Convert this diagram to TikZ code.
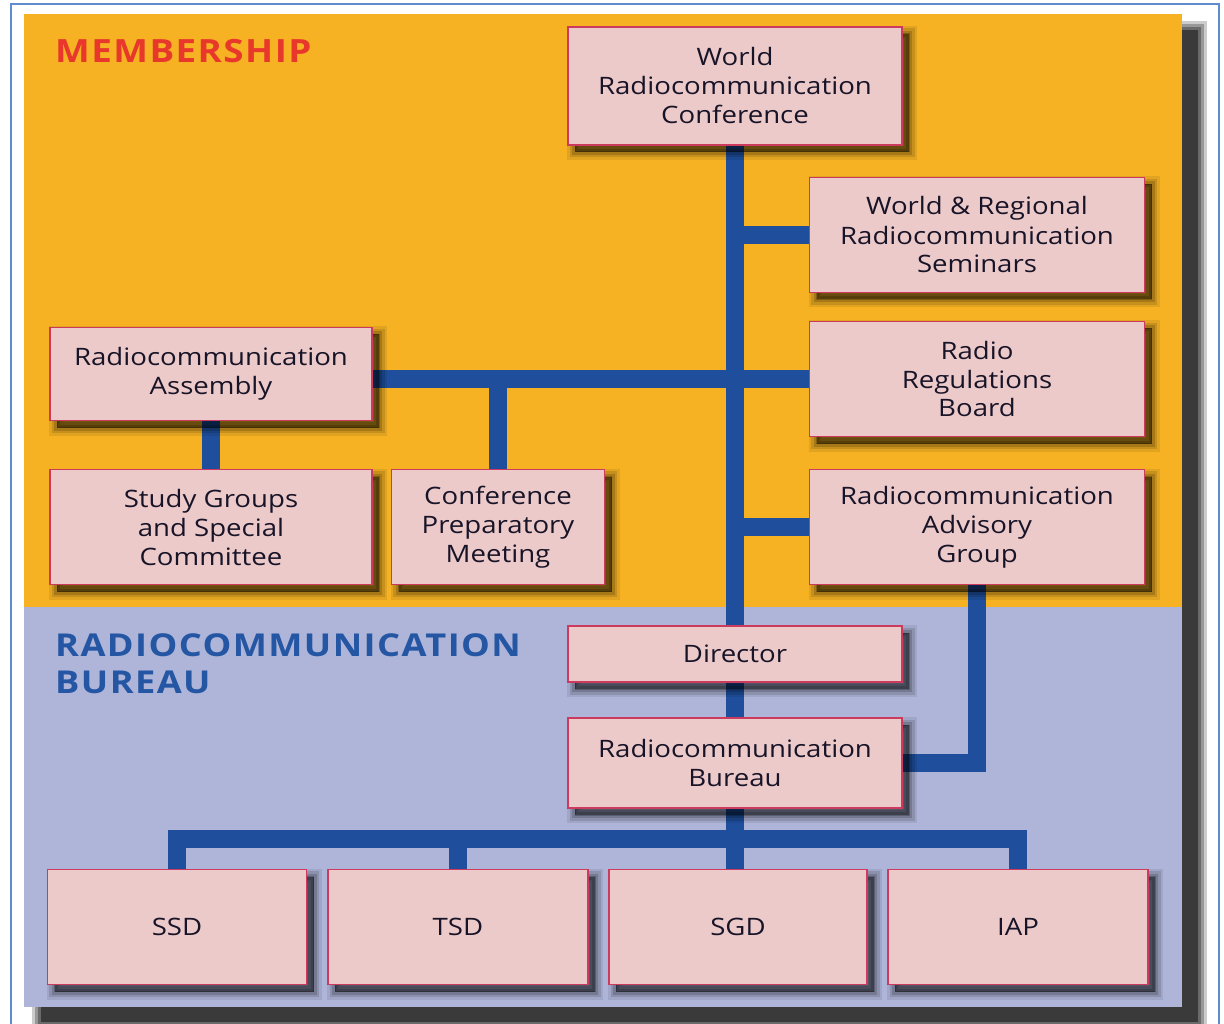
\documentclass[tikz,border=0pt]{standalone}
\usepackage{fontspec}
\newfontfamily\boxfont{Open Sans}[FakeStretch=1.15]
\newfontfamily\headfont{Open Sans}[FakeStretch=1.15, LetterSpace=4.5]
\usetikzlibrary{shadows}

\definecolor{membergold}{RGB}{246,178,35}
\definecolor{bureaulilac}{RGB}{174,181,217}
\definecolor{boxpink}{RGB}{237,202,202}
\definecolor{boxrim}{RGB}{204,58,94}
\definecolor{linkblue}{RGB}{31,79,156}
\definecolor{headred}{RGB}{232,55,43}
\definecolor{headblue}{RGB}{36,86,164}
\definecolor{framedge}{RGB}{95,140,205}
\definecolor{inkdark}{RGB}{24,20,40}

\pgfdeclarelayer{panel}
\pgfdeclarelayer{links}
\pgfsetlayers{panel,links,main}

\begin{document}
\begin{tikzpicture}[x=1pt, y=-1pt,
    % soft shadow: stacked strokes of falling width
    shadowstep/.style={drop shadow={shadow xshift=7pt, shadow yshift=-7pt,
        fill=black, draw=black, #1}},
    softshadow/.style={
      shadowstep={opacity=.08, line width=16pt},
      shadowstep={opacity=.12, line width=11pt},
      shadowstep={opacity=.16, line width=6pt},
      shadowstep={opacity=.22, line width=1pt}},
    unit/.style={draw=boxrim, line width=1.6pt, fill=boxpink, text=inkdark,
      align=center, inner sep=0pt, softshadow,
      font=\boxfont\fontsize{24}{29}\selectfont},
    link/.style={draw=linkblue, line width=18pt},
    heading/.style={anchor=base west, inner sep=0pt, align=left,
      font=\headfont\bfseries\fontsize{32}{37}\selectfont}]
    \useasboundingbox (0,0) rectangle (1224,1024);

    % background panel: membership on top, bureau below
    \begin{pgfonlayer}{panel}
        \fill[white] (0,0) rectangle (1224,1024);
        \draw[framedge, line width=1.2pt] (11,4) rectangle (1219,1040);
        \foreach \r/\o in {9/0.2, 6/0.25, 3/0.3, 0/0.45}
            \fill[black, opacity=\o] (41-\r,30-\r) rectangle (1198+\r,1022+\r);
        \fill[bureaulilac] (24,14) rectangle (1182,1007);
        \fill[membergold] (24,14) rectangle (1182,607);
    \end{pgfonlayer}

    \node[heading, text=headred] (member) at (55,63) {MEMBERSHIP};
    \node[heading, text=headblue, font=\headfont\bfseries\fontsize{31.5}{37}\selectfont] (bureau) at (55,693) {RADIOCOMMUNICATION\\BUREAU};

    % membership bodies
    \node[unit, minimum width=334pt, minimum height=118pt] (wrc) at (735,86) {World\\Radiocommunication\\Conference};
    \node[unit, minimum width=335pt, minimum height=115pt] (sem) at (977,235) {World \& Regional\\Radiocommunication\\Seminars};
    \node[unit, minimum width=335pt, minimum height=115pt] (rrb) at (977,379) {Radio\\Regulations\\Board};
    \node[unit, minimum width=335pt, minimum height=115pt] (rag) at (977,527) {Radiocommunication\\Advisory\\Group};
    \node[unit, minimum width=322pt, minimum height=93pt] (ra) at (211,374) {Radiocommunication\\Assembly};
    \node[unit, minimum width=322pt, minimum height=115pt] (sg) at (211,527) {Study Groups\\and Special\\Committee};
    \node[unit, minimum width=213pt, minimum height=115pt] (cpm) at (498,527) {Conference\\Preparatory\\Meeting};

    % bureau
    \node[unit, minimum width=334pt, minimum height=56pt] (dir) at (735,654) {Director};
    \node[unit, minimum width=334pt, minimum height=90pt] (br) at (735,763) {Radiocommunication\\Bureau};
    \node[unit, minimum width=259pt, minimum height=115pt] (ssd) at (177,927) {SSD};
    \node[unit, minimum width=260pt, minimum height=115pt] (tsd) at (458,927) {TSD};
    \node[unit, minimum width=258pt, minimum height=115pt] (sgd) at (738,927) {SGD};
    \node[unit, minimum width=260pt, minimum height=115pt] (iap) at (1018,927) {IAP};
    \coordinate (bus) at (735,839);

    \begin{pgfonlayer}{links}
        \draw[link] (wrc) -- (dir);
        \draw[link] (sem.west) -- (sem.west -| wrc);
        \draw[link] (rag.west) -- (rag.west -| wrc);
        \draw[link] (ra.east |- rrb) -- (rrb.west);
        \draw[link] (cpm.north) -- (cpm.north |- rrb);
        \draw[link] (ra) -- (sg);
        \draw[link] (dir) -- (br);
        \draw[link] (rag.south) |- (br.east);
        \draw[link] (br) -- (br |- sgd.north);
        \draw[link] (ssd.north) |- (bus) -| (iap.north);
        \draw[link] (tsd.north) -- (tsd.north |- bus);
    \end{pgfonlayer}
\end{tikzpicture}
\end{document}
